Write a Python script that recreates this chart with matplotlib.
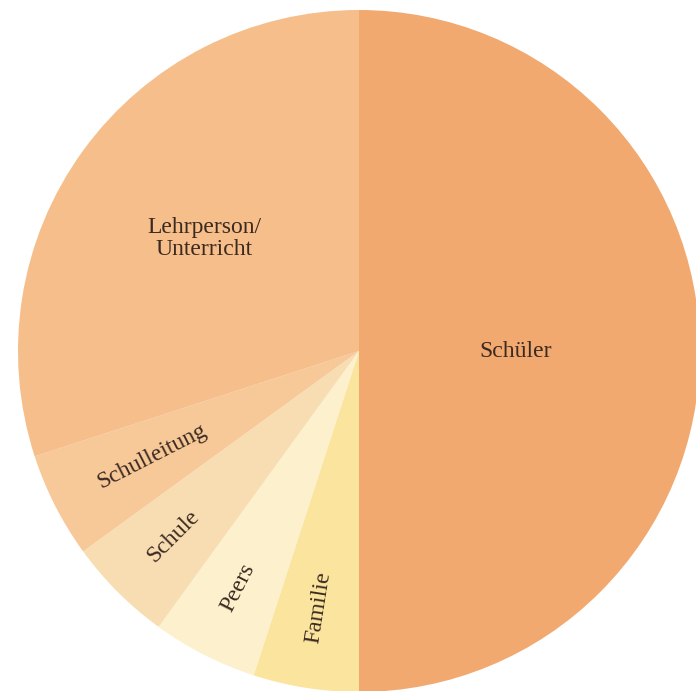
import numpy as np
import matplotlib
matplotlib.use('Agg')
import matplotlib.pyplot as plt

# Anteile in Prozent (im Uhrzeigersinn ab 12 Uhr)
labels = ['Schüler', 'Familie', 'Peers', 'Schule', 'Schulleitung', 'Lehrperson/\nUnterricht']
shares = [50, 5, 5, 5, 5, 30]
colors = ['#F2A970', '#FBE59E', '#FCF0CD', '#F8DDB3', '#F7C898', '#F5BE8A']

# Abstand der Beschriftung (Anteil des Radius) und ob radial gedreht
label_dist = [0.46, 0.76, 0.78, 0.77, 0.68, 0.56]
radial = [False, True, True, True, True, False]

fig = plt.figure(figsize=(6.96, 6.91), dpi=100)
ax = fig.add_axes([0, 0, 1, 1])

cx, cy, r = 359, 340, 341
wedges, _ = ax.pie(shares, colors=colors, startangle=90, counterclock=False,
                   center=(cx, cy), radius=r, frame=True,
                   wedgeprops=dict(linewidth=0))
ax.set_xlim(0, 696)
ax.set_ylim(0, 691)
ax.set_aspect('equal')
ax.axis('off')

for w, lab, d, rad in zip(wedges, labels, label_dist, radial):
    mid = np.deg2rad((w.theta1 + w.theta2) / 2)
    x = cx + d * r * np.cos(mid)
    y = cy + d * r * np.sin(mid)
    rot = np.rad2deg(mid) - 180 if rad else 0
    ax.text(x, y, lab, ha='center', va='center', rotation=rot,
            rotation_mode='anchor', fontsize=17, color='#3B2A20',
            family='Liberation Serif', linespacing=1.05)

fig.savefig('out.png', dpi=100)
